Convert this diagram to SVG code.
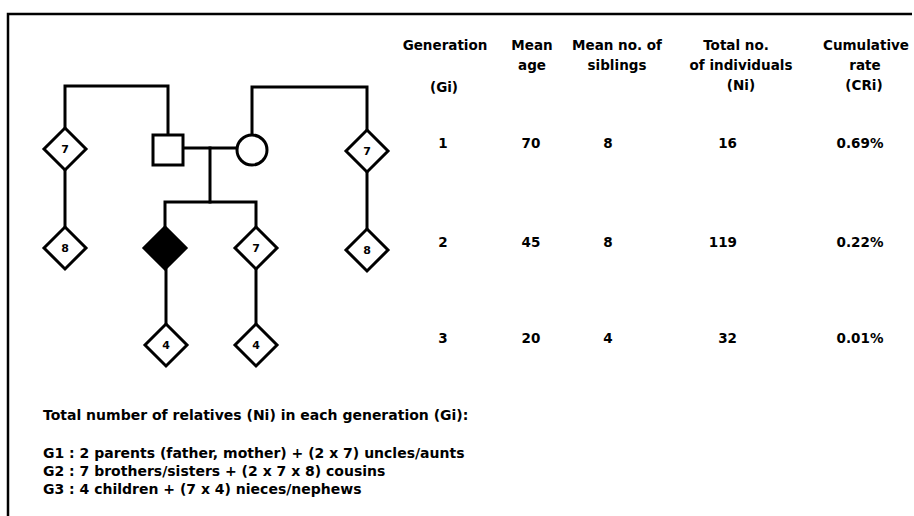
<svg xmlns="http://www.w3.org/2000/svg" width="914" height="516" viewBox="0 0 914 516">
<style>
.ln{fill:none;stroke:#000;stroke-width:3;stroke-linecap:square}
.dm{fill:#fff;stroke:#000;stroke-width:3;stroke-linejoin:miter}
.t{font-family:"DejaVu Sans","Liberation Sans",sans-serif;font-weight:bold;font-size:13.5px;fill:#000}
.w{font-family:"DejaVu Sans","Liberation Sans",sans-serif;font-weight:bold;font-size:14px;fill:#000}
.h{text-anchor:middle}
.n{font-family:"DejaVu Sans","Liberation Sans",sans-serif;font-weight:bold;font-size:11px;fill:#000;text-anchor:middle}
</style>
<defs>
<path id="dia" d="M0,-21 L21,0 L0,21 L-21,0 Z"/>
</defs>
<rect width="914" height="516" fill="#fff"/>
<g id="frame">
<path d="M8,516 V14 H912" fill="none" stroke="#000" stroke-width="2.5"/>
</g>
<g id="connectors">
<path class="ln" d="M65,128 V86 H168 V135"/>
<path class="ln" d="M252,135 V87 H367 V130"/>
<path class="ln" d="M183,148 H237"/>
<path class="ln" d="M210,148 V202"/>
<path class="ln" d="M165,227 V202 H256 V227"/>
<path class="ln" d="M65,170 V227"/>
<path class="ln" d="M367,172 V229"/>
<path class="ln" d="M166,268 V324"/>
<path class="ln" d="M256,268 V324"/>
</g>
<g id="uncles-paternal"><use href="#dia" class="dm" x="65" y="149"/><text class="n" x="65" y="153">7</text></g>
<g id="father"><rect x="153" y="135" width="30" height="30" fill="#fff" stroke="#000" stroke-width="3"/></g>
<g id="mother"><circle cx="252" cy="150" r="15" fill="#fff" stroke="#000" stroke-width="3"/></g>
<g id="uncles-maternal"><use href="#dia" class="dm" x="367" y="151"/><text class="n" x="367" y="155">7</text></g>
<g id="cousins-paternal"><use href="#dia" class="dm" x="65" y="248"/><text class="n" x="65" y="252">8</text></g>
<g id="proband"><use href="#dia" x="165" y="248" fill="#000" stroke="#000" stroke-width="3"/></g>
<g id="siblings"><use href="#dia" class="dm" x="256" y="248"/><text class="n" x="256" y="252">7</text></g>
<g id="cousins-maternal"><use href="#dia" class="dm" x="367" y="250"/><text class="n" x="367" y="254">8</text></g>
<g id="children"><use href="#dia" class="dm" x="166" y="345"/><text class="n" x="166" y="349">4</text></g>
<g id="nieces"><use href="#dia" class="dm" x="256" y="345"/><text class="n" x="256" y="349">4</text></g>
<g id="table">
<text class="t h" x="445" y="50">Generation</text>
<text class="t h" x="444" y="92">(Gi)</text>
<text class="t h" x="532" y="50">Mean</text>
<text class="t h" x="532" y="70">age</text>
<text class="t h" x="617" y="50">Mean no. of</text>
<text class="t h" x="617" y="70">siblings</text>
<text class="t h" x="736" y="50">Total no.</text>
<text class="t h" x="741" y="70">of individuals</text>
<text class="t h" x="741" y="90">(Ni)</text>
<text class="t h" x="866" y="50">Cumulative</text>
<text class="t h" x="865" y="70">rate</text>
<text class="t h" x="864" y="90">(CRi)</text>
<text class="t h" x="443" y="148">1</text>
<text class="t h" x="531" y="148">70</text>
<text class="t h" x="608" y="148">8</text>
<text class="t" x="737" y="148" text-anchor="end">16</text>
<text class="t h" x="860" y="148">0.69%</text>
<text class="t h" x="443" y="247">2</text>
<text class="t h" x="531" y="247">45</text>
<text class="t h" x="608" y="247">8</text>
<text class="t" x="737" y="247" text-anchor="end">119</text>
<text class="t h" x="860" y="247">0.22%</text>
<text class="t h" x="443" y="343">3</text>
<text class="t h" x="531" y="343">20</text>
<text class="t h" x="608" y="343">4</text>
<text class="t" x="737" y="343" text-anchor="end">32</text>
<text class="t h" x="860" y="343">0.01%</text>
</g>
<g id="notes">
<text class="w" x="43" y="420">Total number of relatives (Ni) in each generation (Gi):</text>
<text class="w" x="43" y="458">G1 : 2 parents (father, mother) + (2 x 7) uncles/aunts</text>
<text class="w" x="43" y="476">G2 : 7 brothers/sisters + (2 x 7 x 8) cousins</text>
<text class="w" x="43" y="494">G3 : 4 children + (7 x 4) nieces/nephews</text>
</g>
</svg>
